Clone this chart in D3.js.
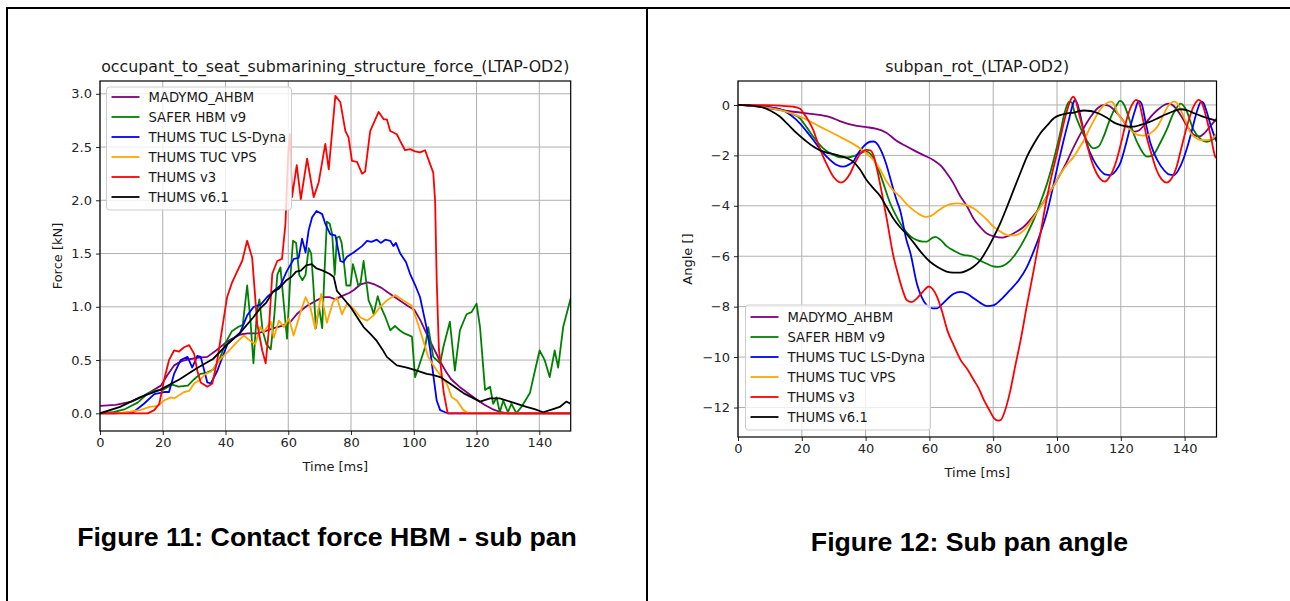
<!DOCTYPE html>
<html>
<head>
<meta charset="utf-8">
<script src="https://cdn.jsdelivr.net/npm/d3@7/dist/d3.min.js"></script>
<style>
    body { margin: 0; background: #fff; }
    svg text { font-family: 'DejaVu Sans', sans-serif; }
</style>
</head>
<body>
<div id="pagina"></div>
<script>

// nombres de los modelos (leyenda) y colores
const modelos = ['MADYMO_AHBM', 'SAFER HBM v9', 'THUMS TUC LS-Dyna', 'THUMS TUC VPS', 'THUMS v3', 'THUMS v6.1']
const colores = ['#800080', '#008000', '#0000ff', '#ffa500', '#ff0000', '#000000']

const tiempo_ticks = [0, 20, 40, 60, 80, 100, 120, 140]
const fuerza_ticks = [0.0, 0.5, 1.0, 1.5, 2.0, 2.5, 3.0]
const angulo_ticks = [0, -2, -4, -6, -8, -10, -12]

const titulo_fuerza = 'occupant_to_seat_submarining_structure_force_(LTAP-OD2)'
const titulo_angulo = 'subpan_rot_(LTAP-OD2)'
const pie_fuerza = 'Figure 11: Contact force HBM - sub pan'
const pie_angulo = 'Figure 12: Sub pan angle'

// ---- fuerza [kN] vs tiempo [ms], pares [t, valor]
const fuerza_madymo = [[0,0.07],[5,0.08],[10,0.11],[13,0.15],[16,0.2],[19.4,0.26],[21.5,0.36],[23.6,0.45],[26,0.49],[28.9,0.51],[31,0.52],[34.2,0.53],[37,0.59],[39.5,0.65],[42,0.7],[44.8,0.74],[47,0.75],[50,0.75],[52.5,0.77],[55.4,0.8],[58,0.82],[60.7,0.86],[63,0.94],[66,1.01],[69,1.06],[71,1.09],[73.3,1.09],[75,1.07],[77,1.1],[79.4,1.13],[81,1.16],[83,1.21],[85.4,1.23],[87.5,1.21],[89.6,1.18],[92,1.13],[94,1.09],[96,1.05],[98,1.01],[100.2,0.97],[102,0.88],[104.5,0.72],[106.5,0.6],[108.7,0.47],[110.5,0.38],[111.9,0.32],[114.5,0.25],[117.2,0.19],[120,0.13],[122.5,0.08],[125,0.04],[127.8,0.01],[130,0],[150,0]]
const fuerza_safer = [[0,0],[4,0.01],[8,0.04],[12,0.1],[15,0.18],[17,0.21],[20,0.22],[23,0.27],[25,0.25],[28,0.26],[30,0.32],[32,0.37],[34,0.38],[36,0.41],[38,0.5],[40,0.66],[42,0.77],[44,0.81],[45.5,0.83],[46.9,1.2],[48,0.85],[48.9,0.47],[50,0.95],[50.8,1.07],[51.8,0.78],[53,0.65],[54.4,0.6],[55.5,0.9],[56.5,1.3],[57.5,1.37],[58.5,1.05],[59.6,0.7],[60.6,1.25],[61.5,1.62],[62.5,1.6],[63.5,1.3],[64.5,1.25],[65.5,1.3],[66.5,1.55],[67.3,1.5],[68,1.2],[68.8,0.8],[69.8,1.0],[70.8,0.8],[71.5,1.3],[72.3,1.8],[73.2,1.78],[74,1.68],[74.8,1.3],[75.5,1.65],[76.3,1.66],[77,1.6],[77.8,1.4],[78.5,1.2],[79.8,1.2],[80.6,1.4],[81.5,1.3],[82.3,1.2],[83,1.22],[84,1.43],[85,1.2],[85.6,1.06],[86.5,1.0],[87.2,0.93],[88.5,1.1],[89.5,1.0],[91,0.9],[92.5,0.78],[94,0.82],[95.5,0.78],[97,0.75],[99.4,0.72],[100.4,0.34],[101.5,0.43],[103.6,0.62],[104.6,0.81],[106.2,0.53],[108.4,0.47],[109.4,0.62],[111.5,0.86],[113.1,0.4],[114.7,0.78],[116.8,0.93],[118.4,0.95],[120,1.03],[121.1,0.81],[122.7,0.22],[124.3,0.25],[125.3,0.09],[126.4,0.15],[127.4,0.01],[128.5,0.12],[130,0.01],[131.1,0.09],[132.7,0],[134.3,0.06],[137,0.19],[138.6,0.4],[140.1,0.59],[141.7,0.5],[143.3,0.34],[144.9,0.59],[146,0.43],[147.6,0.81],[150,1.08]]
const fuerza_dyna = [[0,0],[5,0],[10.6,0.01],[14,0.09],[17.3,0.18],[20.4,0.2],[22,0.2],[23.6,0.37],[25.7,0.5],[27.9,0.53],[29.4,0.43],[31,0.54],[32.1,0.53],[34.2,0.29],[35.3,0.28],[37.4,0.4],[38.4,0.48],[40.6,0.65],[42.5,0.7],[44.7,0.76],[46.9,0.92],[49,1.0],[51.2,1.02],[53.2,1.09],[55.4,1.15],[57.5,1.2],[59.6,1.34],[61.8,1.45],[63.3,1.46],[64.4,1.64],[65.5,1.51],[66.5,1.72],[67.6,1.84],[69,1.9],[70.8,1.87],[71.8,1.78],[73.4,1.68],[75,1.67],[76.6,1.43],[77.6,1.42],[78.7,1.47],[80.8,1.51],[83.5,1.57],[85.1,1.62],[86.5,1.61],[88.2,1.63],[89.5,1.6],[90.9,1.63],[92.5,1.62],[93.5,1.57],[94.3,1.6],[95.7,1.5],[97.5,1.42],[98.8,1.31],[100.5,1.2],[102,1.09],[103,0.95],[104.1,0.8],[105.2,0.6],[106.3,0.34],[107.3,0.12],[108.4,0.03],[110,0.01],[111,0],[150,0]]
const fuerza_vps = [[0,0],[5,0],[8.5,0.01],[12.7,0.03],[15.9,0.06],[18.5,0.07],[20.4,0.12],[22.6,0.15],[23.6,0.14],[25.2,0.17],[26.8,0.2],[28.4,0.21],[30,0.28],[32.1,0.32],[33.6,0.37],[35.3,0.39],[38.4,0.51],[40.5,0.57],[43.7,0.67],[45.8,0.73],[47.9,0.68],[49.5,0.65],[51.1,0.81],[52.1,0.76],[54.4,0.86],[55.4,0.71],[57,0.87],[58.6,0.81],[60.2,0.89],[61.7,0.73],[63.9,0.95],[65.5,1.09],[67,1.0],[68.6,0.79],[70.5,1.12],[72.3,0.85],[74.2,1.04],[75.5,1.09],[77.1,0.93],[78.7,1.03],[80.8,0.98],[83,0.9],[85.1,0.87],[87.2,0.92],[89.3,1.0],[91.4,1.06],[94.1,1.11],[96.7,1.06],[99.4,1.01],[102,0.78],[104.6,0.53],[106.2,0.45],[108.4,0.36],[110.5,0.28],[112.1,0.15],[113.7,0.12],[115.8,0.03],[117.4,0],[150,0]]
const fuerza_v3 = [[0,0],[15.2,0],[17.3,0.03],[18.9,0.09],[20.4,0.31],[22,0.5],[23.6,0.59],[25.2,0.58],[26.8,0.62],[28.4,0.64],[30,0.56],[31,0.4],[32.1,0.29],[34.2,0.25],[35.8,0.28],[37.4,0.5],[39,0.81],[40.5,1.09],[42.1,1.23],[43.7,1.33],[45.3,1.43],[46.9,1.62],[48.5,1.46],[50.1,0.84],[51.7,0.59],[52.8,0.47],[53.8,0.78],[54.9,1.31],[56.5,1.43],[58,1.45],[59.1,1.78],[60,2.45],[60.5,2.62],[61.2,2.03],[62.7,2.33],[64,2.01],[66,2.39],[68.1,2.03],[69.7,2.17],[71.8,2.53],[72.9,2.29],[75,2.98],[76.6,2.92],[78.2,2.65],[79.2,2.59],[80.3,2.37],[81.9,2.36],[83.5,2.25],[84.5,2.27],[86.1,2.65],[88.8,2.83],[90.4,2.76],[91.4,2.76],[92.5,2.65],[94.6,2.62],[95.6,2.56],[97.2,2.47],[98.8,2.48],[100.4,2.46],[102,2.45],[103.6,2.47],[105.2,2.34],[106.2,2.26],[106.8,1.99],[107.3,1.25],[108,0.6],[109.5,0.2],[110.8,0],[150,0]]
const fuerza_v61 = [[0,0],[6.4,0.06],[12.7,0.15],[19.1,0.22],[25.4,0.32],[30.7,0.42],[36,0.51],[40.3,0.64],[44.5,0.75],[48.8,0.9],[50.9,0.98],[53,1.04],[55.1,1.14],[57,1.17],[59.4,1.25],[61,1.28],[62.5,1.33],[64,1.34],[65.7,1.39],[67.5,1.4],[69,1.36],[71,1.34],[73.1,1.31],[74.5,1.28],[75.5,1.15],[77.5,1.08],[79.8,1.0],[82,0.9],[84,0.81],[86,0.75],[88.2,0.68],[90,0.6],[91.4,0.53],[93,0.49],[94.6,0.45],[97.8,0.43],[101,0.4],[104.1,0.37],[106,0.36],[108.4,0.34],[111.5,0.28],[115.8,0.19],[118.5,0.15],[121.1,0.11],[124.3,0.14],[127.4,0.14],[131.7,0.1],[135.9,0.06],[138.5,0.04],[141.2,0.01],[144.4,0.04],[146.5,0.06],[148.6,0.11],[150,0.09]]

// ---- angulo subpan [] vs tiempo [ms]
const angulo_madymo = [[0,0],[5,-0.05],[13.1,-0.2],[18,-0.28],[23.6,-0.36],[28.8,-0.48],[31.9,-0.64],[34.5,-0.75],[37.2,-0.83],[40.3,-0.88],[43.5,-0.95],[46.5,-1.1],[49.7,-1.42],[52.5,-1.62],[55,-1.79],[58,-1.98],[61.2,-2.18],[63.5,-2.4],[65.4,-2.7],[67.5,-3.1],[69.6,-3.6],[71.7,-4.0],[73.8,-4.5],[76,-4.85],[78,-5.1],[80.5,-5.22],[83,-5.26],[85,-5.18],[87,-5.05],[89.6,-4.83],[92,-4.5],[94.7,-4.05],[97,-3.6],[100,-2.98],[102.5,-2.4],[105.3,-1.65],[108,-1.0],[110.6,-0.46],[112.8,-0.12],[114.8,0.0],[116.5,-0.05],[117.9,-0.2],[120,-0.5],[122.1,-0.86],[124.2,-1.06],[125.8,-1.0],[127.4,-0.79],[129.5,-0.45],[131.5,-0.2],[133.6,0.0],[135.2,0.05],[136.8,-0.07],[139,-0.45],[140.9,-0.86],[143,-1.19],[144.6,-1.25],[146.2,-1.12],[148,-0.85],[150,-0.55]]
const angulo_safer = [[0,0],[6,-0.05],[13.1,-0.17],[16,-0.3],[19.4,-0.53],[21.5,-0.88],[23.6,-1.26],[26.7,-1.72],[29.9,-1.98],[32,-2.08],[34.1,-2.08],[36.5,-2.02],[38.5,-1.9],[40.3,-1.85],[42.4,-2.1],[43.5,-2.4],[45,-2.9],[47.7,-3.9],[50,-4.5],[51.9,-4.9],[54,-5.2],[56.1,-5.36],[58,-5.42],[59.2,-5.42],[60.8,-5.28],[61.9,-5.23],[63.5,-5.35],[65.4,-5.6],[68,-5.8],[70.6,-5.95],[72,-5.97],[73.8,-6.02],[76,-6.18],[78,-6.3],[80,-6.4],[81.5,-6.42],[83,-6.38],[84.3,-6.29],[86.5,-6.0],[88.5,-5.62],[90.5,-5.15],[92.7,-4.56],[95,-3.8],[96.9,-3.11],[98.5,-2.4],[100,-1.65],[101.2,-1.0],[102.1,-0.46],[103.2,0.0],[103.8,0.13],[104.6,0.1],[105.5,-0.3],[107.2,-0.86],[109.5,-1.45],[111.4,-1.72],[113,-1.65],[114.6,-1.26],[116.5,-0.6],[118.5,-0.05],[119.8,0.16],[121,0.02],[122.5,-0.5],[124,-1.13],[126,-1.7],[128.2,-2.05],[130,-2.0],[132.3,-1.52],[134.5,-0.95],[136.5,-0.33],[138.8,0.05],[140.5,-0.2],[142.8,-0.99],[145,-1.35],[147,-1.46],[149.6,-1.32],[150,-1.3]]
const angulo_dyna = [[0,0],[6,-0.04],[13.1,-0.17],[16.5,-0.4],[19.4,-0.73],[21.5,-1.05],[23.6,-1.39],[25.7,-1.75],[27.8,-2.05],[30,-2.3],[31,-2.38],[33.1,-2.45],[35,-2.35],[36.1,-2.25],[37.5,-1.95],[39.3,-1.65],[41.4,-1.46],[42.5,-1.45],[43.5,-1.52],[44.5,-1.72],[46.6,-2.4],[47.6,-2.85],[49.7,-3.77],[50.8,-4.17],[52.9,-5.4],[54,-5.85],[56.1,-7.1],[57.5,-7.6],[59.2,-7.95],[61,-8.07],[62.4,-8.07],[64,-7.9],[65.6,-7.7],[67.5,-7.5],[69.8,-7.41],[72,-7.5],[73.9,-7.67],[76,-7.85],[78.1,-7.98],[80,-7.95],[81.1,-7.87],[83,-7.65],[85.3,-7.34],[88,-6.95],[90.6,-6.42],[92.7,-5.8],[94.8,-5.09],[97,-4.2],[99,-3.11],[100.5,-2.25],[102.1,-1.39],[103.7,-0.6],[105.1,0.07],[105.6,0.2],[106.5,0.0],[107.8,-0.7],[109.3,-1.52],[111.5,-2.2],[113.5,-2.58],[115,-2.75],[116.7,-2.78],[118.5,-2.6],[119.8,-2.32],[121.5,-1.6],[123,-0.86],[124.5,-0.2],[125.6,0.16],[126.5,0.05],[127.8,-0.7],[129.3,-1.52],[131.5,-2.2],[133.5,-2.58],[135,-2.75],[136.7,-2.78],[138.8,-2.4],[140.9,-1.65],[142.5,-0.9],[144,-0.2],[145.2,0.13],[145.8,0.1],[147,-0.3],[148.3,-0.86],[149.8,-1.39],[150,-1.45]]
const angulo_vps = [[0,0],[6,-0.05],[13.1,-0.2],[19.4,-0.46],[25.7,-0.86],[31.9,-1.26],[38.2,-1.72],[42.4,-2.18],[44.5,-2.55],[46.6,-3.04],[48.7,-3.4],[50.8,-3.64],[53,-3.95],[55,-4.17],[57,-4.35],[58.6,-4.44],[60.5,-4.4],[62.4,-4.23],[64.5,-4.05],[66.5,-3.93],[69,-3.9],[71.7,-3.97],[73.8,-4.1],[75.9,-4.3],[78,-4.55],[80.1,-4.83],[82,-5.0],[84.3,-5.16],[86.5,-5.17],[88.5,-5.09],[90.5,-4.85],[92.7,-4.44],[94.8,-4.05],[96.9,-3.64],[99,-3.2],[101.2,-2.71],[103.2,-2.35],[105.3,-2.05],[107,-1.7],[108.5,-1.39],[110,-1.0],[111.6,-0.6],[113.2,-0.25],[114.8,0.0],[116.9,0.13],[117.8,0.05],[119,-0.33],[120.5,-0.6],[122.1,-0.86],[123.5,-1.05],[125.3,-1.19],[127,-1.22],[128.5,-1.19],[130,-1.05],[131.5,-0.86],[133,-0.5],[134.7,-0.07],[136.8,0.13],[137.8,0.05],[138.8,-0.2],[140.5,-0.7],[142,-1.13],[143.5,-1.3],[145,-1.39],[146.5,-1.4],[148.3,-1.36],[149.8,-1.19],[150,-1.15]]
const angulo_v3 = [[0,0],[8,-0.01],[13.1,-0.03],[17.3,-0.07],[19.5,-0.15],[20.4,-0.3],[22,-0.6],[23.6,-1.0],[25,-1.5],[26.7,-2.05],[27.8,-2.35],[29.9,-2.85],[31,-3.0],[32.3,-3.08],[33.5,-3.0],[35.2,-2.71],[36.5,-2.35],[38.4,-1.92],[40.3,-1.78],[41.5,-1.8],[42.6,-2.05],[43.5,-2.5],[44.8,-3.3],[46.6,-4.5],[48.9,-6.1],[49.7,-6.5],[51.5,-7.3],[52.9,-7.74],[54.5,-7.82],[56.1,-7.67],[58,-7.4],[59.8,-7.2],[61,-7.3],[62.4,-7.61],[64,-8.2],[65.6,-8.93],[67.5,-9.5],[69.8,-10.12],[72,-10.5],[73.9,-10.91],[75.5,-11.25],[77.1,-11.71],[78.8,-12.1],[80.3,-12.43],[81.5,-12.52],[82.3,-12.5],[83.5,-12.2],[85.4,-11.31],[87,-10.3],[88.6,-9.33],[90.5,-8.0],[92.7,-6.55],[94.8,-5.1],[96.9,-3.64],[98.5,-2.7],[100,-1.92],[101.5,-1.05],[103.2,-0.2],[104.3,0.2],[105.1,0.33],[105.8,0.2],[107,-0.4],[109.3,-1.52],[110.8,-2.2],[112.4,-2.71],[113.7,-2.95],[115,-3.04],[116.5,-2.85],[118.7,-2.18],[120.3,-1.4],[121.8,-0.6],[123.3,-0.05],[124.8,0.2],[125.8,0.05],[127,-0.6],[128.1,-1.26],[129.5,-1.9],[131.2,-2.58],[132.8,-2.95],[134.4,-3.08],[136,-2.9],[137.5,-2.45],[139,-1.7],[140.7,-0.86],[142.5,-0.15],[143.5,0.1],[144.4,0.2],[145.5,0.05],[147,-0.6],[148.3,-1.3],[149.6,-2.05],[150,-2.1]]
const angulo_v61 = [[0,0],[4,-0.03],[7.8,-0.1],[10.5,-0.25],[13.1,-0.46],[15.5,-0.75],[18.4,-1.12],[21,-1.4],[23.6,-1.65],[25.7,-1.8],[27.8,-1.89],[30,-1.95],[31.9,-2.02],[34,-2.1],[36.1,-2.25],[38.2,-2.55],[40.3,-2.98],[42.4,-3.3],[44.5,-3.6],[46.6,-4.05],[48.7,-4.5],[50.8,-4.85],[52.9,-5.12],[55,-5.45],[57.1,-5.8],[60.2,-6.22],[62.8,-6.45],[65.4,-6.61],[67.5,-6.65],[69.6,-6.65],[71.7,-6.57],[73.8,-6.42],[76,-6.15],[78,-5.75],[80.1,-5.25],[82.2,-4.7],[84.3,-4.05],[86.4,-3.37],[88.5,-2.7],[90.6,-2.05],[92.7,-1.55],[94.8,-1.12],[97,-0.8],[99,-0.53],[101,-0.4],[103.2,-0.33],[105.3,-0.3],[107,-0.24],[108.5,-0.22],[110.5,-0.24],[112.7,-0.32],[115.5,-0.5],[117.9,-0.7],[120,-0.8],[122.1,-0.86],[124,-0.86],[126.2,-0.79],[128.8,-0.68],[131.5,-0.53],[134,-0.38],[136.5,-0.25],[138.8,-0.17],[141,-0.22],[143,-0.33],[145.5,-0.45],[148,-0.55],[150,-0.63]]


const svg = d3.select('#pagina')
    .append('svg')
    .attr('width', 1290)
    .attr('height', 601)

svg.append('rect').attr('width', 1290).attr('height', 601).attr('fill', '#fff')

// bordes de la tabla del documento
const bordes = svg.append('g').attr('stroke', '#000').attr('stroke-width', 2)
bordes.append('line').attr('x1', 6).attr('x2', 1290).attr('y1', 8).attr('y2', 8)
bordes.append('line').attr('x1', 7).attr('x2', 7).attr('y1', 7).attr('y2', 601)
bordes.append('line').attr('x1', 647).attr('x2', 647).attr('y1', 7).attr('y2', 601)


function grafica(op) {
    const x = d3.scaleLinear().domain([0, 150]).range([op.left, op.right])
    const y = d3.scaleLinear().domain(op.yDom).range([op.bottom, op.top])
    const g = svg.append('g')

    // rejilla
    g.append('g').selectAll('line')
        .data(tiempo_ticks)
        .enter().append('line')
        .attr('x1', d => x(d)).attr('x2', d => x(d))
        .attr('y1', op.top).attr('y2', op.bottom)
        .attr('stroke', '#b0b0b0').attr('stroke-width', 1)
    g.append('g').selectAll('line')
        .data(op.yTicks)
        .enter().append('line')
        .attr('x1', op.left).attr('x2', op.right)
        .attr('y1', d => y(d)).attr('y2', d => y(d))
        .attr('stroke', '#b0b0b0').attr('stroke-width', 1)

    // ejes
    const xAxis = g.append('g')
        .attr('transform', `translate(0, ${op.bottom})`)
        .call(d3.axisBottom(x).tickValues(tiempo_ticks).tickSize(4).tickPadding(3).tickFormat(d3.format('d')))
    const yAxis = g.append('g')
        .attr('transform', `translate(${op.left}, 0)`)
        .call(d3.axisLeft(y).tickValues(op.yTicks).tickSize(4).tickPadding(4).tickFormat(op.yFmt))
    ;[xAxis, yAxis].forEach(a => {
        a.select('.domain').remove()
        a.selectAll('text').style('font-size', '13px').style('fill', '#262626')
            .style('font-family', 'DejaVu Sans')
        a.selectAll('line').attr('stroke', '#262626')
    })

    // curvas
    const clipId = 'clip' + op.left
    g.append('clipPath').attr('id', clipId)
        .append('rect')
        .attr('x', op.left).attr('y', op.top)
        .attr('width', op.right - op.left).attr('height', op.bottom - op.top)

    const linea = d3.line()
        .x(d => x(d[0]))
        .y(d => y(d[1]))
        .curve(op.curva)

    g.append('g').attr('clip-path', `url(#${clipId})`)
        .selectAll('path')
        .data(op.series)
        .enter().append('path')
        .attr('d', d => linea(d))
        .attr('fill', 'none')
        .attr('stroke', (d, i) => colores[i])
        .attr('stroke-width', 1.8)
        .attr('stroke-linejoin', 'round')

    // marco
    g.append('rect')
        .attr('x', op.left).attr('y', op.top)
        .attr('width', op.right - op.left).attr('height', op.bottom - op.top)
        .attr('fill', 'none').attr('stroke', '#000').attr('stroke-width', 1.2)

    // titulos
    g.append('text')
        .attr('x', (op.left + op.right) / 2)
        .attr('y', op.top - 9)
        .style('text-anchor', 'middle')
        .style('font-size', '15.8px')
        .style('fill', '#1a1a1a')
        .text(op.titulo)
    g.append('text')
        .attr('x', (op.left + op.right) / 2)
        .attr('y', op.bottom + 40)
        .style('text-anchor', 'middle')
        .style('font-size', '13px')
        .style('fill', '#1a1a1a')
        .text('Time [ms]')
    g.append('text')
        .attr('transform', `translate(${op.yLabelX}, ${(op.top + op.bottom) / 2}) rotate(-90)`)
        .style('text-anchor', 'middle')
        .style('font-size', '13px')
        .style('fill', '#1a1a1a')
        .text(op.yLabel)

    // leyenda
    const ley = g.append('g').attr('transform', `translate(${op.ley.x}, ${op.ley.y})`)
    ley.append('rect')
        .attr('width', op.ley.w).attr('height', op.ley.h)
        .attr('rx', 3)
        .attr('fill', '#fff').attr('fill-opacity', 0.8)
        .attr('stroke', '#cccccc').attr('stroke-width', 1)
    const filas = ley.selectAll('.fila')
        .data(modelos)
        .enter().append('g')
        .attr('class', 'fila')
        .attr('transform', (d, i) => `translate(0, ${op.ley.primera + i * 20})`)
    filas.append('line')
        .attr('x1', 5).attr('x2', 33)
        .attr('stroke', (d, i) => colores[i])
        .attr('stroke-width', 1.8)
    filas.append('text')
        .attr('x', 42)
        .attr('dy', '0.35em')
        .style('font-size', '13.2px')
        .style('fill', '#1a1a1a')
        .text(d => d)
}

grafica({
    left: 100, right: 570.7, top: 81, bottom: 431,
    yDom: [-0.166, 3.12],
    yTicks: fuerza_ticks,
    yFmt: d3.format('.1f'),
    series: [fuerza_madymo, fuerza_safer, fuerza_dyna, fuerza_vps, fuerza_v3, fuerza_v61],
    curva: d3.curveLinear,
    titulo: titulo_fuerza,
    yLabel: 'Force [kN]',
    yLabelX: 62,
    ley: { x: 106.5, y: 87, w: 185, h: 123, primera: 10 }
})

grafica({
    left: 738, right: 1216.5, top: 81, bottom: 437,
    yDom: [-13.17, 0.95],
    yTicks: angulo_ticks,
    yFmt: d => d3.format('d')(d).replace('-', '\u2212'),
    series: [angulo_madymo, angulo_safer, angulo_dyna, angulo_vps, angulo_v3, angulo_v61],
    curva: d3.curveMonotoneX,
    titulo: titulo_angulo,
    yLabel: 'Angle []',
    yLabelX: 692,
    ley: { x: 745.5, y: 305, w: 185, h: 125, primera: 12 }
})

// pies de figura
svg.append('text')
    .attr('x', 327).attr('y', 546)
    .style('text-anchor', 'middle')
    .style('font-family', "'Liberation Sans', Arial, sans-serif")
    .style('font-weight', 'bold')
    .style('font-size', '26.7px')
    .style('fill', '#000')
    .text(pie_fuerza)
svg.append('text')
    .attr('x', 969.5).attr('y', 551)
    .style('text-anchor', 'middle')
    .style('font-family', "'Liberation Sans', Arial, sans-serif")
    .style('font-weight', 'bold')
    .style('font-size', '26.7px')
    .style('fill', '#000')
    .text(pie_angulo)

</script>
</body>
</html>
